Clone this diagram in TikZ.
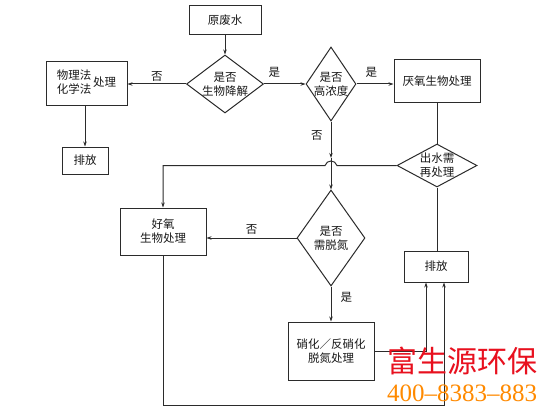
\documentclass[tikz,border=0pt]{standalone}
\usepackage{fontspec}
\newfontfamily\cjk{Noto Sans CJK SC}
\newfontfamily\digitfont{Liberation Serif}
\usetikzlibrary{shapes.geometric,arrows.meta}
\definecolor{linec}{HTML}{2B2B2B}
\definecolor{wmred}{HTML}{E8101E}
\definecolor{wmorange}{HTML}{FF8A00}
\begin{document}
\begin{tikzpicture}[x=1pt,y=-1pt,
  every node/.style={font=\cjk\fontsize{11.5}{14}\selectfont, text=black!90},
  box/.style={draw=linec, line width=1pt, inner sep=0pt, align=center},
  dia/.style={box, shape=diamond, inner sep=-8pt},
  flow/.style={draw=linec, line width=1pt},
  arr/.style={flow, -{Stealth[length=5pt,width=3.4pt]}},
  lab/.style={inner sep=0pt}]
\useasboundingbox[fill=white] (0,0) rectangle (560,420);

\node[box, minimum width=72pt, minimum height=29pt] (raw) at (225,20.5) {原废水};
\node[dia, minimum width=77pt, minimum height=58pt] (d1) at (225,84) {是否\\生物降解};
\node[box, minimum width=81pt, minimum height=44pt] (pc) at (86.5,84) {\begin{tabular}{@{}l@{}}物理法\\化学法\end{tabular}\,处理};
\node[box, minimum width=46pt, minimum height=27pt] (lpf) at (85,160.5) {排放};
\node[dia, minimum width=50pt, minimum height=74pt] (d2) at (331,84) {是否\\高浓度};
\node[box, minimum width=86pt, minimum height=43pt] (ana) at (437,81) {厌氧生物处理};
\node[dia, minimum width=80pt, minimum height=43pt] (d4) at (437,165.5) {出水需\\再处理};
\node[dia, minimum width=68pt, minimum height=96pt] (d3) at (331,238) {是否\\需脱氮};
\node[box, minimum width=86pt, minimum height=47pt] (aer) at (163,231.5) {好氧\\生物处理};
\node[box, minimum width=86pt, minimum height=58pt] (nit) at (331,351) {硝化／反硝化\\脱氮处理};
\node[box, minimum width=64pt, minimum height=31pt] (rpf) at (436,266.5) {排放};

\draw[arr] (raw.south) -- (d1.north);
\draw[arr] (d1.west) -- (d1.west -| pc.east) node[lab, midway, above=2pt]{否};
\draw[arr] (pc.south -| lpf.north) -- (lpf.north);
\draw[arr] (d1.east) -- (d2.west) node[lab, pos=0.25, above=6pt]{是};
\draw[arr] (d2.east) -- (d2.east -| ana.west) node[lab, pos=0.4, above=6pt]{是};
\draw[flow] (ana.south) -- (d4.north);
\coordinate (m1) at (331,158);
\draw[arr] (d2.south) -- (m1) node[lab, pos=0.38, left=8pt]{否};
\draw[arr] (m1) -- (d3.north);
\coordinate (j1) at (163,165.5);
\draw[arr] (d4.west) -- (337,165.5) .. controls (335,159.5) and (327,159.5) .. (325,165.5) -- (j1) -- (aer.north);
\draw[arr] (d3.west) -- (d3.west -| aer.east) node[lab, midway, above=3pt]{否};
\draw[arr] (d3.south) -- (nit.north) node[lab, pos=0.32, right=9pt]{是};
\draw[flow] (d4.south) -- (d4.south |- rpf.north);
\coordinate (j2) at (426,351);
\draw[arr] (nit.east) -- (j2) -- (j2 |- rpf.south);
\coordinate (j3) at (163,405);
\coordinate (j4) at (444,405);
\draw[arr] (aer.south) -- (j3) -- (j4) -- (j4 |- rpf.south);

\node[font=\cjk\fontsize{30}{30}\selectfont, text=wmred, inner sep=0pt] (wm1) at (462,361) {富生源环保};
\node[font=\digitfont\fontsize{25}{25}\selectfont, text=wmorange, inner sep=0pt] (wm2) at (462,393) {400–8383–883};
\end{tikzpicture}
\end{document}
